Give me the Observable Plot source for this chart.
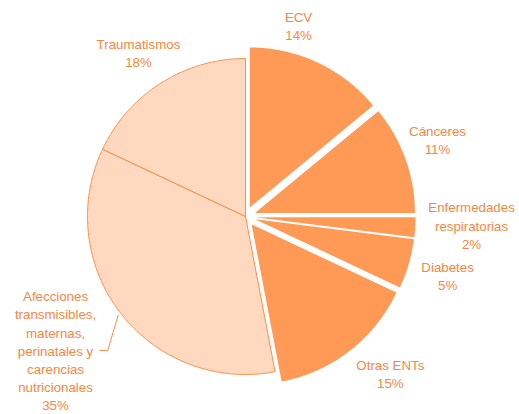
<!DOCTYPE html>
<html><head><meta charset="utf-8">
<script src="https://cdn.jsdelivr.net/npm/d3@7"></script>
<script src="https://cdn.jsdelivr.net/npm/@observablehq/plot@0.6"></script>
<style>body{margin:0;background:#fff}svg{display:block}</style>
</head><body><div id="chart"></div>
<script>
// ---- data ----
const categories = ["ECV", "Cánceres", "Enfermedades\nrespiratorias", "Diabetes", "Otras ENTs",
  "Afecciones\ntransmisibles,\nmaternas,\nperinatales y\ncarencias\nnutricionales", "Traumatismos"];
const values = [14, 11, 2, 5, 15, 35, 18];
const groups = ["ENT", "ENT", "ENT", "ENT", "ENT", "Otras", "Otras"];

// ---- layout / style ----
const W = 519, H = 414, R = 158, cx = 245, cy = 216;
const explode = 10 / R, darkR = 160 / R;
const labelR = [1.249, 1.307, 1.432, 1.334, 1.357, 1.475, 1.234];
const labelShift = [-9.6, -1.8, -1.1, 0.3, -4.7, 2.4, -0.9];
const colors = {ENT: "#fe9a56", Otras: "#fed9c0"};
const lineColor = "#f78f47", textColor = "#f5883f";

const total = d3.sum(values);
const rad = d => d * Math.PI / 180;
let acc = 0;
const slices = categories.map((c, i) => {
  const a0 = acc / total * 2 * Math.PI; acc += values[i];
  const a1 = acc / total * 2 * Math.PI;
  return {name: c, value: values[i], group: groups[i], a0, a1, mid: (a0 + a1) / 2, i};
});
const polar = (a, r, ox = 0, oy = 0) => [ox + r * Math.sin(a), oy + r * Math.cos(a)];

const pts = [];
for (const s of slices) {
  const dark = s.group === "ENT";
  const [ox, oy] = dark ? polar(s.mid, explode) : [0, 0];
  const r = dark ? darkR : 1;
  const n = Math.max(4, Math.ceil((s.a1 - s.a0) / rad(0.5)));
  pts.push({name: s.name, group: s.group, x: ox, y: oy});
  for (let k = 0; k <= n; k++) {
    const a = s.a0 + (s.a1 - s.a0) * k / n;
    const [x, y] = polar(a, r, ox, oy);
    pts.push({name: s.name, group: s.group, x, y});
  }
  pts.push({name: s.name, group: s.group, x: ox, y: oy});
}

const labels = slices.map(s => {
  const [x, y] = polar(s.mid + rad(labelShift[s.i]), labelR[s.i]);
  return {x, y, text: s.name + "\n" + s.value + "%"};
});

// leader for the multi-line label
const lead = slices[5];
const p0 = polar(lead.mid, 1.02), p1 = polar(rad(225.8), 1.216);
const leader = [{x: p0[0], y: p0[1]}, {x: p1[0], y: p1[1]}, {x: p1[0] - 8 / R, y: p1[1]}];

const chart = Plot.plot({
  width: W, height: H,
  margin: 0,
  x: {domain: [-cx / R, (W - cx) / R], axis: null},
  y: {domain: [(cy - H) / R, cy / R], axis: null},
  style: {fontFamily: "'Liberation Sans', Arial, sans-serif", background: "#fff"},
  marks: [
    Plot.line(pts.filter(d => d.group === "Otras"), {x: "x", y: "y", z: "name", fill: colors.Otras, stroke: lineColor, strokeWidth: 1, curve: "linear", strokeLinejoin: "round"}),
    Plot.line(pts.filter(d => d.group === "ENT"), {x: "x", y: "y", z: "name", fill: colors.ENT, stroke: "none", curve: "linear"}),
    Plot.line(leader, {x: "x", y: "y", stroke: lineColor, strokeWidth: 1}),
    Plot.text(labels, {x: "x", y: "y", dy: -1.5, text: "text", fill: textColor, fontSize: 13.3, lineHeight: 1.37, textAnchor: "middle", lineAnchor: "middle"})
  ]
});
document.getElementById("chart").append(chart);
</script>
</body></html>
